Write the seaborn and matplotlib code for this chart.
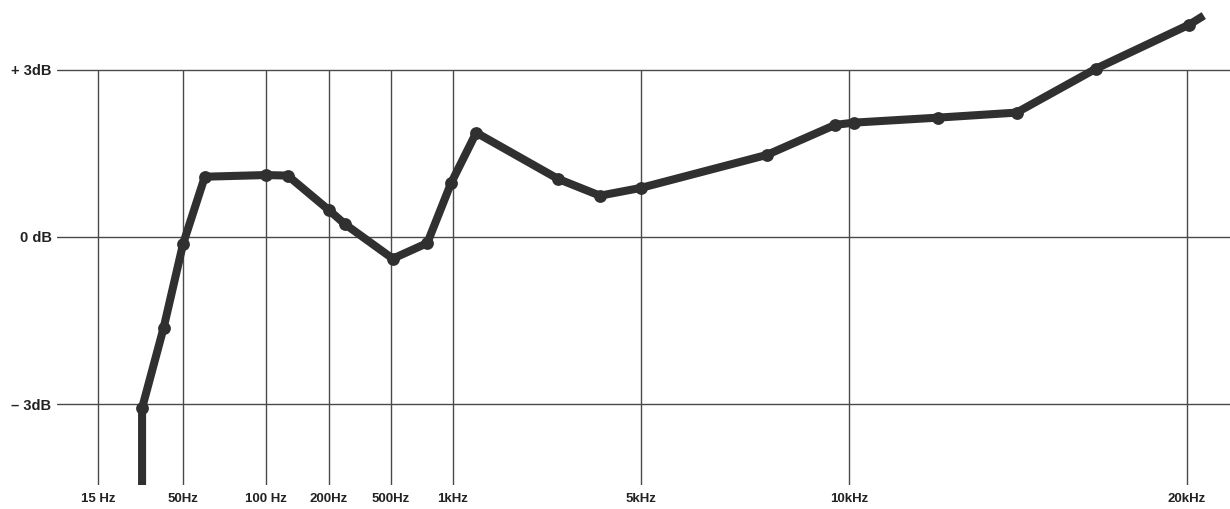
import numpy as np
import matplotlib
matplotlib.use("Agg")
import matplotlib.pyplot as plt
import seaborn as sns

# ---- data ----
freq_hz = [28, 28, 38, 50, 60, 100, 127, 200, 253, 510, 750, 980, 1220,
           2460, 3520, 5000, 7600, 9550, 10100, 12000, 14100, 16600, 20100, 20700]
level_db = [-4.7, -3.07, -1.63, -0.13, 1.08, 1.11, 1.10, 0.48, 0.23, -0.39, -0.11,
            0.97, 1.87, 1.04, 0.74, 0.88, 1.47, 2.01, 2.05, 2.14, 2.23, 3.02, 3.81, 3.97]
tick_freqs = [15, 50, 100, 200, 500, 1000, 5000, 10000, 20000]
tick_labels = ["15 Hz", "50Hz", "100 Hz", "200Hz", "500Hz", "1kHz", "5kHz", "10kHz", "20kHz"]
db_ticks = [-3, 0, 3]
db_labels = ["\u2013 3dB", "0 dB", "+ 3dB"]

# chart's own (non-uniform) frequency scale: knots in log10(f) -> axis units
knot_logf = np.log10([1, 15, 50, 100, 200, 500, 1000, 5000, 10000, 20000, 100000])
knot_pos = np.array([-93, 98, 183, 266, 329, 391, 453, 641, 849, 1187, 1972], float)

def fwd(f):
    f = np.clip(np.asarray(f, float), 1e-3, None)
    return np.interp(np.log10(f), knot_logf, knot_pos)

def inv(p):
    return 10 ** np.interp(np.asarray(p, float), knot_pos, knot_logf)

sns.set_theme(style="white")
plt.rcParams['font.family'] = ['Liberation Sans', 'DejaVu Sans']

W, H = 1230, 509
fig = plt.figure(figsize=(W / 100, H / 100), dpi=100)
ax = fig.add_axes([57 / W, (H - 485) / H, (W - 57) / W, 485 / H])
ax.set_xscale('function', functions=(fwd, inv))
ax.set_xlim(float(inv(57)), float(inv(1230)))
ymin, ymax = -4.45, 4.25
ax.set_ylim(ymin, ymax)

gcol = "#4a4a4a"
for y in db_ticks:
    ax.axhline(y, color=gcol, lw=1.0, zorder=1)
ax.vlines(tick_freqs, ymin, 3, color=gcol, lw=1.0, zorder=1)

line_col = "#303030"
sns.lineplot(x=freq_hz, y=level_db, ax=ax, color=line_col, lw=5.8,
             sort=False, estimator=None, zorder=3,
             solid_capstyle='butt', solid_joinstyle='round')
sns.scatterplot(x=freq_hz[1:-1], y=level_db[1:-1], ax=ax, color=line_col,
                s=85, edgecolor=line_col, linewidth=0, zorder=4)

ax.set_xticks(tick_freqs)
ax.set_xticklabels(tick_labels)
ax.set_yticks(db_ticks)
ax.set_yticklabels(db_labels)
ax.tick_params(axis='x', length=0, pad=6, labelsize=9.5, labelcolor="#222222")
ax.tick_params(axis='y', length=0, pad=4, labelsize=10.5, labelcolor="#222222")
for lab in ax.get_xticklabels() + ax.get_yticklabels():
    lab.set_fontweight('semibold')
ax.minorticks_off()
for s in ax.spines.values():
    s.set_visible(False)
ax.set_xlabel("")
ax.set_ylabel("")
ax.grid(False)

fig.savefig("out.png", dpi=100, facecolor="white")
